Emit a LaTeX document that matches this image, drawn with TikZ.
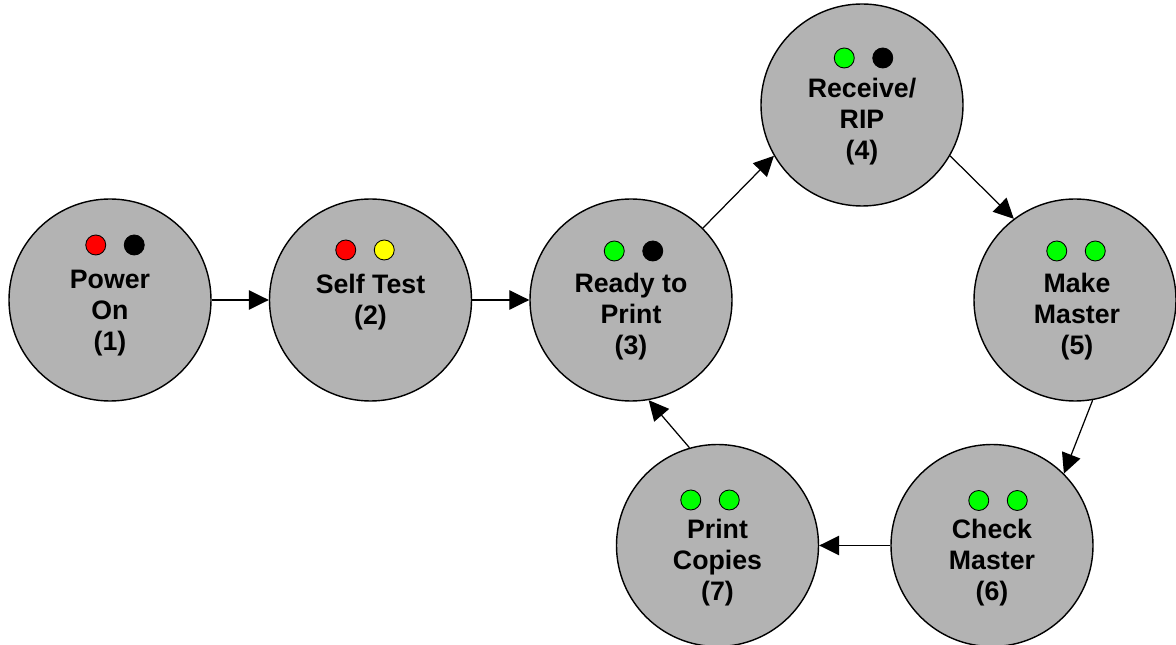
\documentclass[tikz,border=0pt]{standalone}
\usepackage{fontspec}
\setmainfont{Liberation Sans}
\usetikzlibrary{arrows.meta,calc}
\definecolor{stagefill}{HTML}{B3B3B3}
\definecolor{ledred}{HTML}{FF0000}
\definecolor{ledyellow}{HTML}{FFFF00}
\definecolor{ledgreen}{HTML}{00FF00}
\definecolor{ledoff}{HTML}{000000}
\definecolor{ink}{HTML}{000000}
\tikzset{
  % ---- printer stages --------------------------------------------
  stage/.style      = {circle, draw=ink, line width=.8pt, fill=stagefill,
                       inner sep=0pt, minimum size=4.04cm},
  stagetxt/.style   = {align=center, text=ink, inner sep=0pt,
                       font=\fontsize{15.2}{17.6}\selectfont\bfseries},
  % ---- panel lamps -----------------------------------------------
  lamp/.style       = {circle, draw=ink, line width=.5pt, inner sep=0pt,
                       minimum size=4mm},
  % ---- transitions -----------------------------------------------
  flow/.style       = {draw=ink, line width=.7pt,
                       -{Triangle[length=4mm,width=3.9mm]}},
}
\begin{document}
\begin{tikzpicture}
  \useasboundingbox (0,0) rectangle (23.52,12.90);
  \node[stage] (s1) at (2.20,6.90) {};
  \node[stage] (s2) at (7.41,6.90) {};
  \node[stage] (s3) at (12.62,6.90) {};
  \node[stage] (s4) at (17.24,10.80) {};
  \node[stage] (s5) at (21.50,6.90) {};
  \node[stage] (s6) at (19.84,1.99) {};
  \node[stage] (s7) at (14.35,1.99) {};
  \node[stagetxt] (t1) at ($(s1)+(0,-0.26)$) {Power\\On\\(1)};
  \node[stagetxt] (t2) at ($(s2)+(0,-0.04)$) {Self Test\\(2)};
  \node[stagetxt] (t3) at ($(s3)+(0,-0.34)$) {Ready to\\Print\\(3)};
  \node[stagetxt] (t4) at ($(s4)+(0,-0.34)$) {Receive/\\RIP\\(4)};
  \node[stagetxt] (t5) at ($(s5)+(0.04,-0.34)$) {Make\\Master\\(5)};
  \node[stagetxt] (t6) at ($(s6)+(0,-0.34)$) {Check\\Master\\(6)};
  \node[stagetxt] (t7) at ($(s7)+(0,-0.34)$) {Print\\Copies\\(7)};
  \foreach \n/\ca/\cb/\dx/\dy in {1/ledred/ledoff/0.10/1.10,
      2/ledred/ledyellow/-0.11/1.00, 3/ledgreen/ledoff/0.05/0.98,
      4/ledgreen/ledoff/0.03/0.94, 5/ledgreen/ledgreen/0.02/0.98,
      6/ledgreen/ledgreen/0.12/0.90, 7/ledgreen/ledgreen/-0.15/0.91}{
    \node[lamp, fill=\ca] (la\n) at ($(s\n)+(\dx-0.385,\dy)$) {};
    \node[lamp, fill=\cb] (lb\n) at ($(s\n)+(\dx+0.385,\dy)$) {};
  }
  \draw[flow] (s1) -- (s2);
  \draw[flow] (s2) -- (s3);
  \draw[flow] (s3.45) -- (s4.210);
  \draw[flow] (s4.330) -- (s5.127);
  \draw[flow] (s5.280) -- (s6.45);
  \draw[flow] (s6) -- (s7);
  \draw[flow] (s7.106) -- (s3.280);
\end{tikzpicture}
\end{document}
